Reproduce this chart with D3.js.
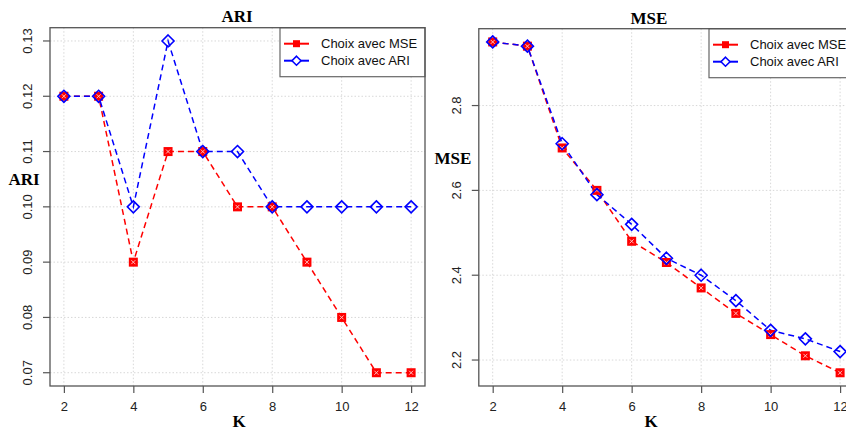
<!DOCTYPE html>
<html><head><meta charset="utf-8">
<script src="https://cdn.jsdelivr.net/npm/d3@7"></script>
<style>html,body{margin:0;padding:0;background:#fff;overflow:hidden}svg{display:block}</style>
</head><body>
<svg id="c" width="846" height="432"></svg>
<script>
const K = [2,3,4,5,6,7,8,9,10,11,12];
const ariMSE = [0.12,0.12,0.09,0.11,0.11,0.10,0.10,0.09,0.08,0.07,0.07];
const ariARI = [0.12,0.12,0.10,0.13,0.11,0.11,0.10,0.10,0.10,0.10,0.10];
const mseMSE = [2.95,2.94,2.70,2.60,2.48,2.43,2.37,2.31,2.26,2.21,2.17];
const mseARI = [2.95,2.94,2.71,2.59,2.52,2.44,2.40,2.34,2.27,2.25,2.22];
const xTicks = [2,4,6,8,10,12];
const ariTicks = [0.07,0.08,0.09,0.10,0.11,0.12,0.13];
const mseTicks = [2.2,2.4,2.6,2.8];
const legendLabels = ["Choix avec MSE","Choix avec ARI"];
const RED = "#ff0000", BLUE = "#0000ff";

const svg = d3.select("#c");

function ext(vals){ const lo=d3.min(vals), hi=d3.max(vals), d=(hi-lo)*0.04; return [lo-d, hi+d]; }

function panel(o){
  const g = svg.append("g");
  const x = d3.scaleLinear().domain(ext(K)).range([o.left, o.right]);
  const y = d3.scaleLinear().domain(ext(o.s1.concat(o.s2))).range([o.bottom, o.top]);
  // grid
  g.selectAll(".gx").data(xTicks).join("line")
    .attr("x1",d=>x(d)).attr("x2",d=>x(d)).attr("y1",o.top).attr("y2",o.bottom)
    .attr("stroke","#d8d8d8").attr("stroke-dasharray","1.5,2").attr("stroke-width",1);
  g.selectAll(".gy").data(o.ticks).join("line")
    .attr("x1",o.left).attr("x2",o.right).attr("y1",d=>y(d)).attr("y2",d=>y(d))
    .attr("stroke","#d8d8d8").attr("stroke-dasharray","1.5,2").attr("stroke-width",1);
  // axes
  const xa = g.append("g").attr("transform",`translate(0,${o.bottom})`)
    .call(d3.axisBottom(x).tickValues(xTicks).tickSize(7).tickPadding(9).tickFormat(d3.format("d")));
  const ya = g.append("g").attr("transform",`translate(${o.left},0)`)
    .call(d3.axisLeft(y).tickValues(o.ticks).tickSize(7).tickFormat(d3.format(o.fmt)));
  [xa,ya].forEach(a=>{ a.select(".domain").remove(); a.selectAll("line").attr("stroke","#555").attr("stroke-width",1.2);
    a.selectAll("text").attr("font-family","Liberation Sans, Arial, sans-serif").attr("font-size",13).attr("fill","#222"); });
  ya.selectAll(".tick").attr("transform",null);
  ya.selectAll(".tick line").attr("y1",d=>y(d)).attr("y2",d=>y(d));
  ya.selectAll("text").attr("text-anchor","middle").attr("dy",null).attr("x",0).attr("y",0)
    .attr("transform",d=>`translate(${o.labX - o.left},${y(d)}) rotate(-90)`);
  // lines
  const line = d3.line().x((d,i)=>x(K[i])).y(d=>y(d));
  [[o.s1,RED],[o.s2,BLUE]].forEach(([s,c])=>{
    g.append("path").attr("d",line(s)).attr("fill","none").attr("stroke",c)
      .attr("stroke-width",1.5).attr("stroke-dasharray","6,4");
  });
  // markers
  const sq = g.selectAll(".sq").data(o.s1).join("g").attr("transform",(d,i)=>`translate(${x(K[i])},${y(d)})`);
  sq.append("rect").attr("x",-4.5).attr("y",-4.5).attr("width",9).attr("height",9).attr("fill",RED);
  sq.append("path").attr("d","M-2,-2L2,2M-2,2L2,-2").attr("stroke","#ffd0d0").attr("stroke-width",0.9);
  g.selectAll(".dm").data(o.s2).join("path").attr("transform",(d,i)=>`translate(${x(K[i])},${y(d)})`)
    .attr("d","M0,-6L6,0L0,6L-6,0Z").attr("fill","none").attr("stroke",BLUE).attr("stroke-width",1.6);
  // legend
  const lw = 145, lh = 49, lx = o.right - lw, ly = o.top;
  const lg = g.append("g");
  lg.append("rect").attr("x",lx).attr("y",ly).attr("width",lw).attr("height",lh)
    .attr("fill","#fff").attr("stroke","#666").attr("stroke-width",1.2);
  legendLabels.forEach((t,i)=>{
    const yy = ly + 16 + i*17, c = i===0?RED:BLUE;
    lg.append("line").attr("x1",lx+4).attr("x2",lx+29).attr("y1",yy).attr("y2",yy).attr("stroke",c).attr("stroke-width",2);
    if(i===0){
      lg.append("rect").attr("x",lx+16.5-3.5).attr("y",yy-3.5).attr("width",7).attr("height",7).attr("fill",RED);
    } else {
      lg.append("path").attr("transform",`translate(${lx+16.5},${yy})`).attr("d","M0,-4.5L4.5,0L0,4.5L-4.5,0Z")
        .attr("fill","#fff").attr("stroke",BLUE).attr("stroke-width",1.6);
    }
    lg.append("text").attr("x",lx+41).attr("y",yy+4.5).text(t)
      .attr("font-family","Liberation Sans, Arial, sans-serif").attr("font-size",13).attr("fill","#111");
  });
  // box
  g.append("rect").attr("x",o.left).attr("y",o.top).attr("width",o.right-o.left).attr("height",o.bottom-o.top)
    .attr("fill","none").attr("stroke","#555").attr("stroke-width",1.3);
  // titles
  const serif = "Liberation Serif, Times New Roman, serif";
  g.append("text").attr("x",o.titleX).attr("y",o.titleY).attr("text-anchor","middle").text(o.title)
    .attr("font-family",serif).attr("font-weight","bold").attr("font-size",17);
  g.append("text").attr("x",o.titleX+2).attr("y",427).attr("text-anchor","middle").text("K")
    .attr("font-family",serif).attr("font-weight","bold").attr("font-size",17);
  g.append("text").attr("x",o.ylabX).attr("y",o.ylabY).attr("text-anchor","middle").text(o.title)
    .attr("font-family",serif).attr("font-weight","bold").attr("font-size",17);
}

panel({left:50, right:425, top:27.7, bottom:386, s1:ariMSE, s2:ariARI, ticks:ariTicks, fmt:".2f",
  labX:32, title:"ARI", titleX:237, titleY:22, ylabX:24, ylabY:185});
panel({left:478.8, right:854, top:28.7, bottom:386, s1:mseMSE, s2:mseARI, ticks:mseTicks, fmt:".1f",
  labX:461, title:"MSE", titleX:649, titleY:24, ylabX:453, ylabY:164});
</script>
</body></html>
